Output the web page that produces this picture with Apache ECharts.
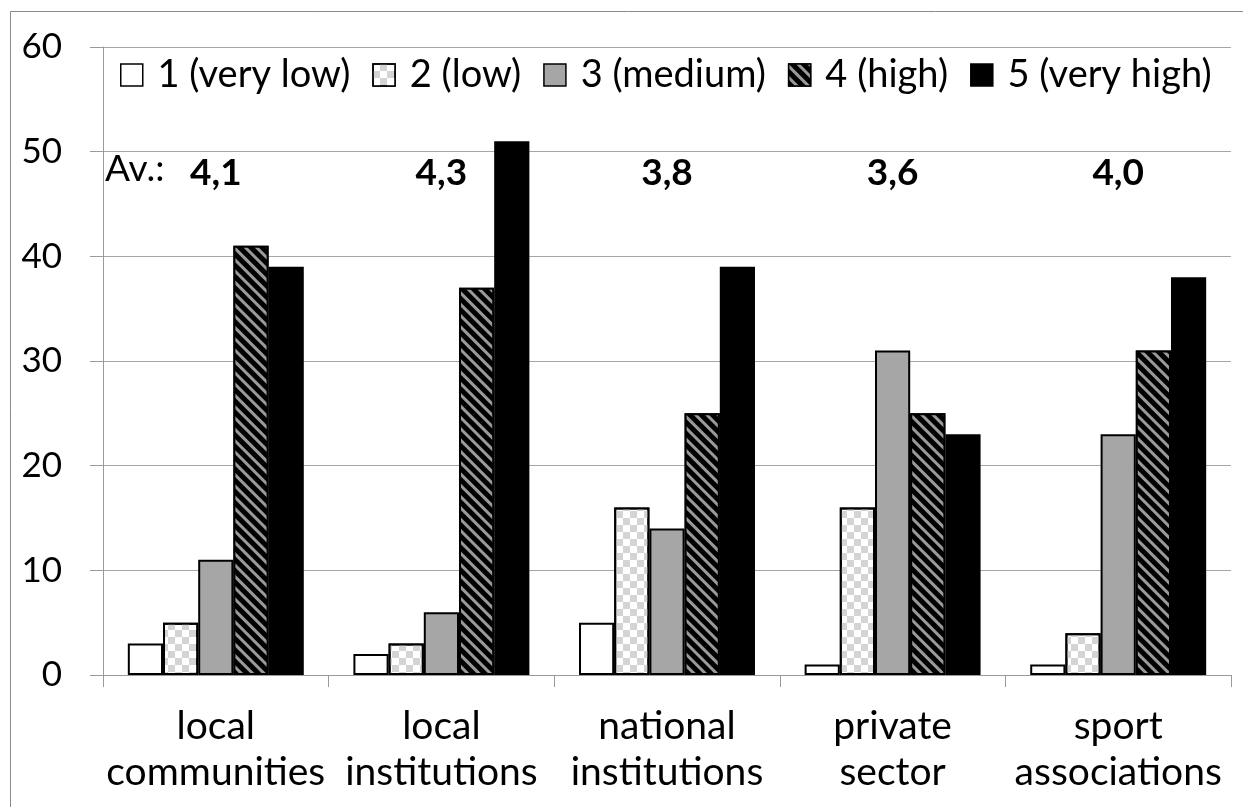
<!DOCTYPE html>
<html>
<head>
<meta charset="utf-8">
<title>Rating by stakeholder</title>
<script src="https://cdn.jsdelivr.net/npm/echarts@6/dist/echarts.min.js"></script>
<style>
  html, body { margin: 0; padding: 0; background: #ffffff; }
  #chart { width: 1243px; height: 807px; }
</style>
</head>
<body>
<div id="chart"></div>
<script>
// Share of answers (%) per rating level for each stakeholder group
const categories = [
  'local\ncommunities',
  'local\ninstitutions',
  'national\ninstitutions',
  'private\nsector',
  'sport\nassociations'
];
const seriesNames = ['1 (very low)', '2 (low)', '3 (medium)', '4 (high)', '5 (very high)'];
const veryLow  = [3, 2, 5, 1, 1];
const low      = [5, 3, 16, 16, 4];
const medium   = [11, 6, 14, 31, 23];
const high     = [41, 37, 25, 25, 31];
const veryHigh = [39, 51, 39, 23, 38];

// Average rating printed above each group
const averages = ['4,1', '4,3', '3,8', '3,6', '4,0'];
const averageRow = 48;

const FONT = 'Lato';

const checkerDecal = {
  symbol: 'rect',
  symbolSize: 1,
  color: '#d4d4d4',
  dashArrayX: [[7, 7], [0, 7, 7, 0]],
  dashArrayY: [7, 0]
};
const stripeDecal = {
  symbol: 'rect',
  symbolSize: 1,
  color: '#9a9a9a',
  dashArrayX: [1, 0],
  dashArrayY: [3, 5],
  rotation: Math.PI / 4
};

const styles = [
  { color: '#ffffff' },
  { color: '#ffffff', decal: checkerDecal },
  { color: '#a6a6a6' },
  { color: '#000000', decal: stripeDecal },
  { color: '#000000' }
];
const values = [veryLow, low, medium, high, veryHigh];

const barSeries = seriesNames.map((name, i) => ({
  name: name,
  type: 'bar',
  barGap: '0%',
  barCategoryGap: '22%',
  data: values[i],
  itemStyle: Object.assign({ borderColor: '#000000', borderWidth: 2 }, styles[i]),
  emphasis: { disabled: true }
}));

const chart = echarts.init(document.getElementById('chart'), null, { renderer: 'canvas' });

chart.setOption({
  animation: false,
  backgroundColor: '#ffffff',
  grid: { left: 103, right: 12, top: 47, bottom: 132 },
  legend: {
    data: seriesNames.map(n => ({ name: n, icon: 'rect' })),
    left: 120,
    top: 56,
    padding: 0,
    itemWidth: 22,
    itemHeight: 22,
    itemGap: 22,
    formatter: n => ' ' + n,
    itemStyle: { borderWidth: 1.5 },
    textStyle: { fontFamily: FONT, fontSize: 38, color: '#000000', lineHeight: 38 }
  },
  xAxis: {
    type: 'category',
    data: categories,
    axisLine: { lineStyle: { color: '#9a9a9a', width: 1 } },
    axisTick: { show: true, length: 12, lineStyle: { color: '#9a9a9a' } },
    axisLabel: {
      margin: 28,
      fontFamily: FONT,
      fontSize: 39,
      lineHeight: 46,
      color: '#000000',
      interval: 0
    }
  },
  yAxis: {
    type: 'value',
    min: 0,
    max: 60,
    interval: 10,
    axisLine: { show: true, lineStyle: { color: '#9a9a9a', width: 1 } },
    axisTick: { show: true, length: 13, lineStyle: { color: '#9a9a9a' } },
    splitLine: { lineStyle: { color: '#a6a6a6', width: 1 } },
    axisLabel: {
      margin: 41,
      fontFamily: FONT,
      fontSize: 35,
      color: '#000000'
    }
  },
  series: barSeries.concat([{
    name: 'average',
    type: 'scatter',
    symbolSize: 0,
    silent: true,
    itemStyle: { opacity: 1 },
    data: averages.map((a, i) => [i, averageRow]),
    label: {
      show: true,
      position: 'inside',
      formatter: p => averages[p.dataIndex],
      fontFamily: FONT,
      fontSize: 37,
      fontWeight: 'bold',
      color: '#000000',
      opacity: 1
    }
  }]),
  graphic: [
    {
      type: 'rect',
      silent: true,
      shape: { x: 10.5, y: 11.5, width: 1400, height: 1000 },
      style: { fill: 'none', stroke: '#8a8a8a', lineWidth: 1 }
    },
    {
      type: 'text',
      silent: true,
      left: 105,
      top: 151,
      style: { text: 'Av.:', font: '37px ' + FONT, fill: '#000000' }
    }
  ]
});
</script>
</body>
</html>
